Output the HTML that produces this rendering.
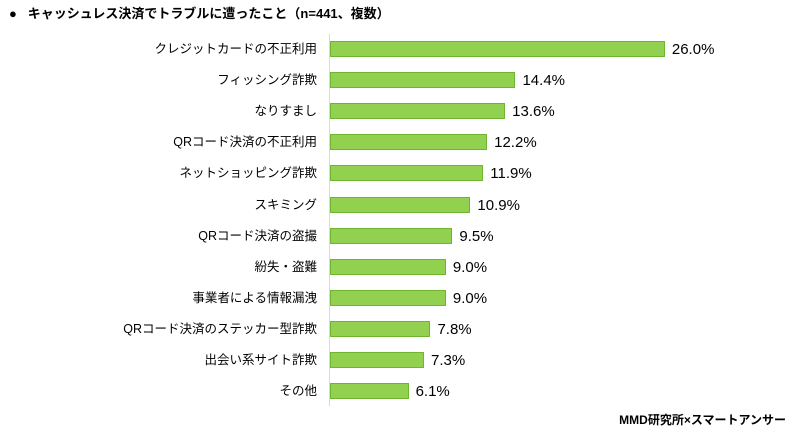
<!DOCTYPE html>
<html><head><meta charset="utf-8"><style>
body{margin:0;width:800px;height:435px;background:#fff;position:relative;overflow:hidden;font-family:"Liberation Sans","Noto Sans CJK JP",sans-serif;color:#000}
.t{position:absolute;left:9px;top:3px;font-size:13px;font-weight:bold;white-space:nowrap}
.ax{position:absolute;left:329px;top:34px;width:1px;height:372px;background:#d9d9d9}
.bar{position:absolute;left:330px;height:16px;background:#92d050;border:1px solid #6fb530;box-sizing:border-box}
.l{position:absolute;right:483px;font-size:12.5px;white-space:nowrap;line-height:16px}
.v{position:absolute;font-size:15px;line-height:16px;white-space:nowrap}
.f{position:absolute;right:14px;top:411px;font-size:12px;font-weight:bold}
</style></head><body>
<div class="t">●&nbsp;&nbsp; キャッシュレス決済でトラブルに遭ったこと（n=441、複数）</div>
<div class="ax"></div>
<div id="c"></div>
<div class="f">MMD研究所×スマートアンサー</div>
<script>
var d=[["クレジットカードの不正利用",26.0],["フィッシング詐欺",14.4],["なりすまし",13.6],["QRコード決済の不正利用",12.2],["ネットショッピング詐欺",11.9],["スキミング",10.9],["QRコード決済の盗撮",9.5],["紛失・盗難",9.0],["事業者による情報漏洩",9.0],["QRコード決済のステッカー型詐欺",7.8],["出会い系サイト詐欺",7.3],["その他",6.1]];
var h="";d.forEach(function(r,i){var y=41+i*31.1,w=r[1]*12.88;
h+='<div class="bar" style="top:'+y+'px;width:'+w+'px"></div><div class="l" style="top:'+y+'px">'+r[0]+'</div><div class="v" style="top:'+(y+1)+'px;left:'+(337+w)+'px">'+r[1].toFixed(1)+'%</div>';});
document.getElementById("c").innerHTML=h;
</script>
</body></html>
